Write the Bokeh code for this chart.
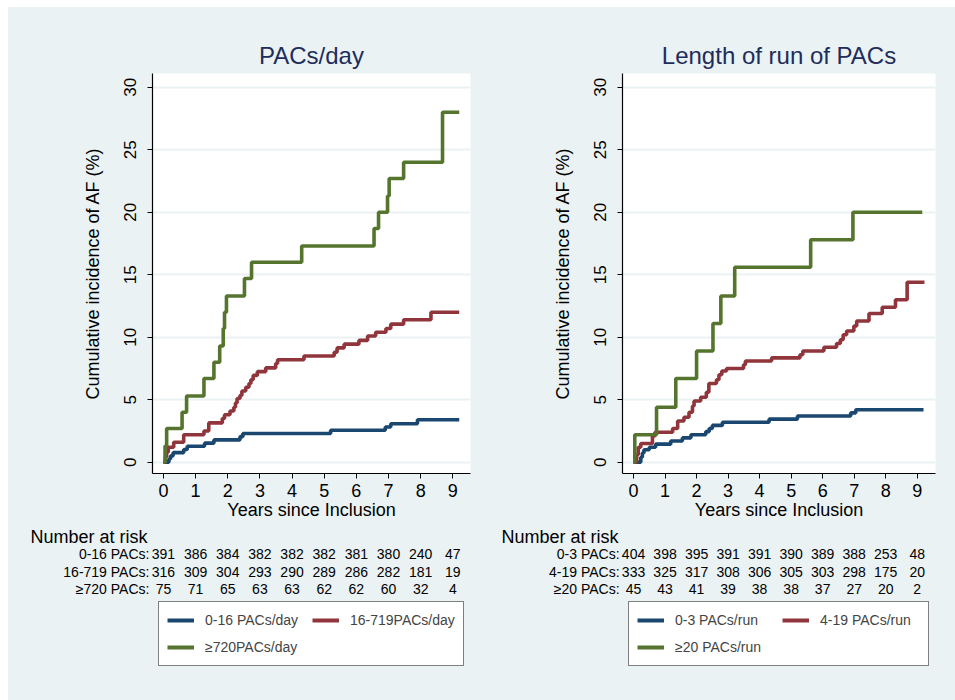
from bokeh.plotting import figure
from bokeh.layouts import row, column
from bokeh.models import Range1d, Legend, LegendItem, Spacer
from bokeh.core.properties import value
from bokeh.embed import file_html
from bokeh.resources import INLINE

# ------------------------------------------------------------------ data
x_ticks = [0, 1, 2, 3, 4, 5, 6, 7, 8, 9]
y_ticks = [0, 5, 10, 15, 20, 25, 30]
risk_years = [0, 1, 2, 3, 4, 5, 6, 7, 8, 9]

# Left panel: PACs/day
left_title = "PACs/day"
left_names = ["0-16 PACs/day", "16-719PACs/day", "\u2265720PACs/day"]
left_risk_labels = ["0-16 PACs:", "16-719 PACs:", "\u2265720 PACs:"]
left_risk_low = [391, 386, 384, 382, 382, 382, 381, 380, 240, 47]
left_risk_mid = [316, 309, 304, 293, 290, 289, 286, 282, 181, 19]
left_risk_high = [75, 71, 65, 63, 63, 62, 62, 60, 32, 4]

left_low_t = [0, 0.17, 0.22, 0.30, 0.63, 0.74, 1.28, 1.57, 2.38, 2.47, 5.20, 6.90, 7.07, 7.90, 9.20]
left_low_y = [0, 0.26, 0.51, 0.77, 1.02, 1.28, 1.53, 1.79, 2.05, 2.30, 2.56, 2.82, 3.08, 3.40, 3.40]

left_mid_t = [0, 0.06, 0.10, 0.15, 0.32, 0.63, 1.26, 1.41, 1.83, 1.90, 2.07, 2.19, 2.24, 2.29, 2.38,
              2.44, 2.56, 2.66, 2.72, 2.79, 2.92, 3.18, 3.49, 3.55, 4.37, 5.31, 5.40, 5.62, 6.08, 6.35,
              6.60, 6.92, 7.07, 7.47, 8.32, 9.20]
left_mid_y = [0, 0.4, 0.8, 1.2, 1.6, 2.2, 2.5, 3.15, 3.5, 3.8, 4.1, 4.4, 4.75, 5.1, 5.35,
              5.7, 6.0, 6.3, 6.6, 6.95, 7.25, 7.55, 7.9, 8.2, 8.5, 8.8, 9.15, 9.45, 9.75, 10.1,
              10.4, 10.7, 11.05, 11.4, 12.0, 12.0]

left_high_t = [0, 0.05, 0.10, 0.58, 0.72, 1.26, 1.57, 1.75, 1.86, 1.90, 1.96, 2.52, 2.74, 4.30,
               6.55, 6.69, 6.97, 7.02, 7.47, 8.68, 9.20]
left_high_y = [0, 1.3, 2.7, 4.0, 5.3, 6.7, 8.0, 9.3, 10.7, 12.0, 13.3, 14.7, 16.0, 17.3,
               18.7, 20.0, 21.3, 22.7, 24.0, 28.0, 28.0]

# Right panel: Length of run of PACs
right_title = "Length of run of PACs"
right_names = ["0-3 PACs/run", "4-19 PACs/run", "\u226520 PACs/run"]
right_risk_labels = ["0-3 PACs:", "4-19 PACs:", "\u226520 PACs:"]
right_risk_low = [404, 398, 395, 391, 391, 390, 389, 388, 253, 48]
right_risk_mid = [333, 325, 317, 308, 306, 305, 303, 298, 175, 20]
right_risk_high = [45, 43, 41, 39, 38, 38, 37, 27, 20, 2]

right_low_t = [0, 0.23, 0.28, 0.33, 0.50, 0.70, 1.18, 1.55, 1.82, 2.29, 2.40, 2.50, 2.82, 4.30,
               5.20, 6.89, 7.05, 9.20]
right_low_y = [0, 0.4, 0.75, 1.0, 1.2, 1.45, 1.7, 1.95, 2.2, 2.45, 2.7, 2.95, 3.2, 3.45,
               3.7, 3.95, 4.2, 4.2]

right_mid_t = [0, 0.10, 0.15, 0.23, 0.60, 0.68, 1.24, 1.40, 1.60, 1.76, 1.87, 1.92, 2.13, 2.31, 2.39,
               2.63, 2.71, 2.80, 2.95, 3.49, 3.55, 4.38, 5.28, 5.37, 6.04, 6.44, 6.56, 6.65, 6.76, 6.99,
               7.08, 7.47, 7.89, 8.31, 8.68, 9.23]
right_mid_y = [0, 0.6, 1.2, 1.5, 2.1, 2.4, 2.7, 3.3, 3.6, 4.0, 4.5, 4.9, 5.2, 5.6, 6.3,
               6.6, 7.0, 7.3, 7.5, 7.8, 8.1, 8.35, 8.6, 8.9, 9.2, 9.5, 9.8, 10.2, 10.5, 10.9,
               11.3, 11.9, 12.4, 13.0, 14.4, 14.4]

right_high_t = [0, 0.04, 0.73, 1.34, 2.00, 2.52, 2.77, 3.21, 5.62, 6.96, 9.16]
right_high_y = [0, 2.2, 4.4, 6.7, 8.9, 11.1, 13.3, 15.6, 17.8, 20.0, 20.0]

# ------------------------------------------------------------------ style / layout
BG = "#EAF2F3"
COLORS = ["#1A476F", "#90353B", "#55752F"]
TITLE_COLOR = "#1F2D5C"
FONT = "Liberation Sans"
MAIN_H = 520          # from y=7 to y=527
TABLE_H = 173         # from y=527 to y=700
TOP_B = 66
BOT_B = 54
NAN = float("nan")


def make_main(title, curves, width, bl, br, xr):
    p = figure(width=width, height=MAIN_H, x_range=Range1d(*xr), y_range=Range1d(-0.9, 31.1),
               output_backend="svg", toolbar_location=None, title=title, frame_align=False,
               min_border_left=bl, min_border_right=br, min_border_top=TOP_B, min_border_bottom=BOT_B)
    p.background_fill_color = "white"
    p.border_fill_color = BG
    p.outline_line_color = None

    p.title.align = "center"
    p.title.text_font = FONT
    p.title.text_font_size = "24px"
    p.title.text_font_style = "normal"
    p.title.text_color = TITLE_COLOR
    p.title.standoff = 9

    p.xgrid.visible = False
    p.ygrid.grid_line_color = BG
    p.ygrid.grid_line_width = 2
    p.ygrid.ticker = y_ticks

    for ax in (p.xaxis[0], p.yaxis[0]):
        ax.axis_line_color = "black"
        ax.axis_line_width = 1.2
        ax.major_tick_line_color = "black"
        ax.major_tick_in = 0
        ax.major_tick_out = 5
        ax.minor_tick_line_color = None
        ax.major_label_text_font = FONT
        ax.major_label_text_color = "black"
        ax.axis_label_text_font = FONT
        ax.axis_label_text_font_style = "normal"
        ax.axis_label_text_font_size = "18px"
        ax.axis_label_text_color = "black"

    p.xaxis.ticker = x_ticks
    p.xaxis.major_label_text_font_size = "18px"
    p.xaxis.major_label_standoff = 5
    p.xaxis.axis_label = "Years since Inclusion"
    p.xaxis.axis_label_standoff = 0

    p.yaxis.ticker = y_ticks
    p.yaxis.major_label_orientation = "vertical"
    p.yaxis.major_label_text_font_size = "17px"
    p.yaxis.major_label_standoff = 12
    p.yaxis.axis_label = "Cumulative incidence of AF (%)"
    p.yaxis.axis_label_standoff = 18

    for (t, y), c in zip(curves, COLORS):
        p.step(x=t, y=y, mode="after", line_color=c, line_width=3.6)
    return p


def make_table(names, risk_labels, risk_rows, width, bl, br, xr, legend_x):
    # x scale aligned with the main plot above: same years-per-pixel
    frame_w = width - bl - br
    ypp = (xr[1] - xr[0]) / frame_w
    t_range = Range1d(xr[0] - bl * ypp, xr[1] + br * ypp)
    p = figure(width=width, height=TABLE_H, x_range=t_range, y_range=Range1d(TABLE_H, 0),
               output_backend="svg", toolbar_location=None, x_axis_type=None, y_axis_type=None,
               min_border=0, frame_align=False)
    p.background_fill_color = BG
    p.border_fill_color = BG
    p.outline_line_color = None
    p.grid.visible = False

    head_x = xr[0] - (bl - 22) * ypp
    p.text(x=[head_x], y=[9], text=["Number at risk"], text_font=value(FONT),
           text_font_size="18px", text_baseline="middle", text_align="left", text_color="black")
    row_y = [26, 44, 61]
    lab_x = -14 * ypp
    p.text(x=[lab_x] * 3, y=row_y, text=risk_labels, text_font=value(FONT), text_font_size="14px",
           text_baseline="middle", text_align="right", text_color="black")
    for vals, yy in zip(risk_rows, row_y):
        p.text(x=risk_years, y=[yy] * len(vals), text=[str(v) for v in vals], text_font=value(FONT),
               text_font_size="14px", text_baseline="middle", text_align="center", text_color="black")

    items = []
    for n, c in zip(names, COLORS):
        # legend-only renderer (no visible data)
        r = p.line(x=[NAN, NAN], y=[NAN, NAN], line_color=c, line_width=4)
        items.append(LegendItem(label=n, renderers=[r]))
    legend = Legend(items=items, location=(legend_x, 34), orientation="horizontal", ncols=2)
    legend.label_text_font = FONT
    legend.label_text_font_size = "14px"
    legend.glyph_width = 27
    legend.glyph_height = 20
    legend.label_height = 20
    legend.label_width = 100
    legend.label_standoff = 11
    legend.padding = 8
    legend.spacing = 7
    legend.margin = 0
    legend.border_line_color = "black"
    legend.border_line_width = 1
    legend.background_fill_color = "white"
    legend.background_fill_alpha = 1
    p.add_layout(legend)
    return p


L_W, L_BL, L_BR, L_XR = 471, 144, 9, (-0.34, 9.55)
R_W, R_BL, R_BR, R_XR = 476, 143, 20, (-0.35, 9.58)

left_main = make_main(left_title,
                      [(left_low_t, left_low_y), (left_mid_t, left_mid_y), (left_high_t, left_high_y)],
                      L_W, L_BL, L_BR, L_XR)
left_table = make_table(left_names, left_risk_labels, [left_risk_low, left_risk_mid, left_risk_high],
                        L_W, L_BL, L_BR, L_XR, legend_x=150)
right_main = make_main(right_title,
                       [(right_low_t, right_low_y), (right_mid_t, right_mid_y), (right_high_t, right_high_y)],
                       R_W, R_BL, R_BR, R_XR)
right_table = make_table(right_names, right_risk_labels, [right_risk_low, right_risk_mid, right_risk_high],
                         R_W, R_BL, R_BR, R_XR, legend_x=149)

panels = row(column(left_main, left_table, styles={"background-color": BG}),
             column(right_main, right_table, styles={"background-color": BG}),
             styles={"background-color": BG})
layout = column(Spacer(height=7), row(Spacer(width=8), panels))

with open("out.html", "w") as f:
    f.write(file_html(layout, INLINE))
